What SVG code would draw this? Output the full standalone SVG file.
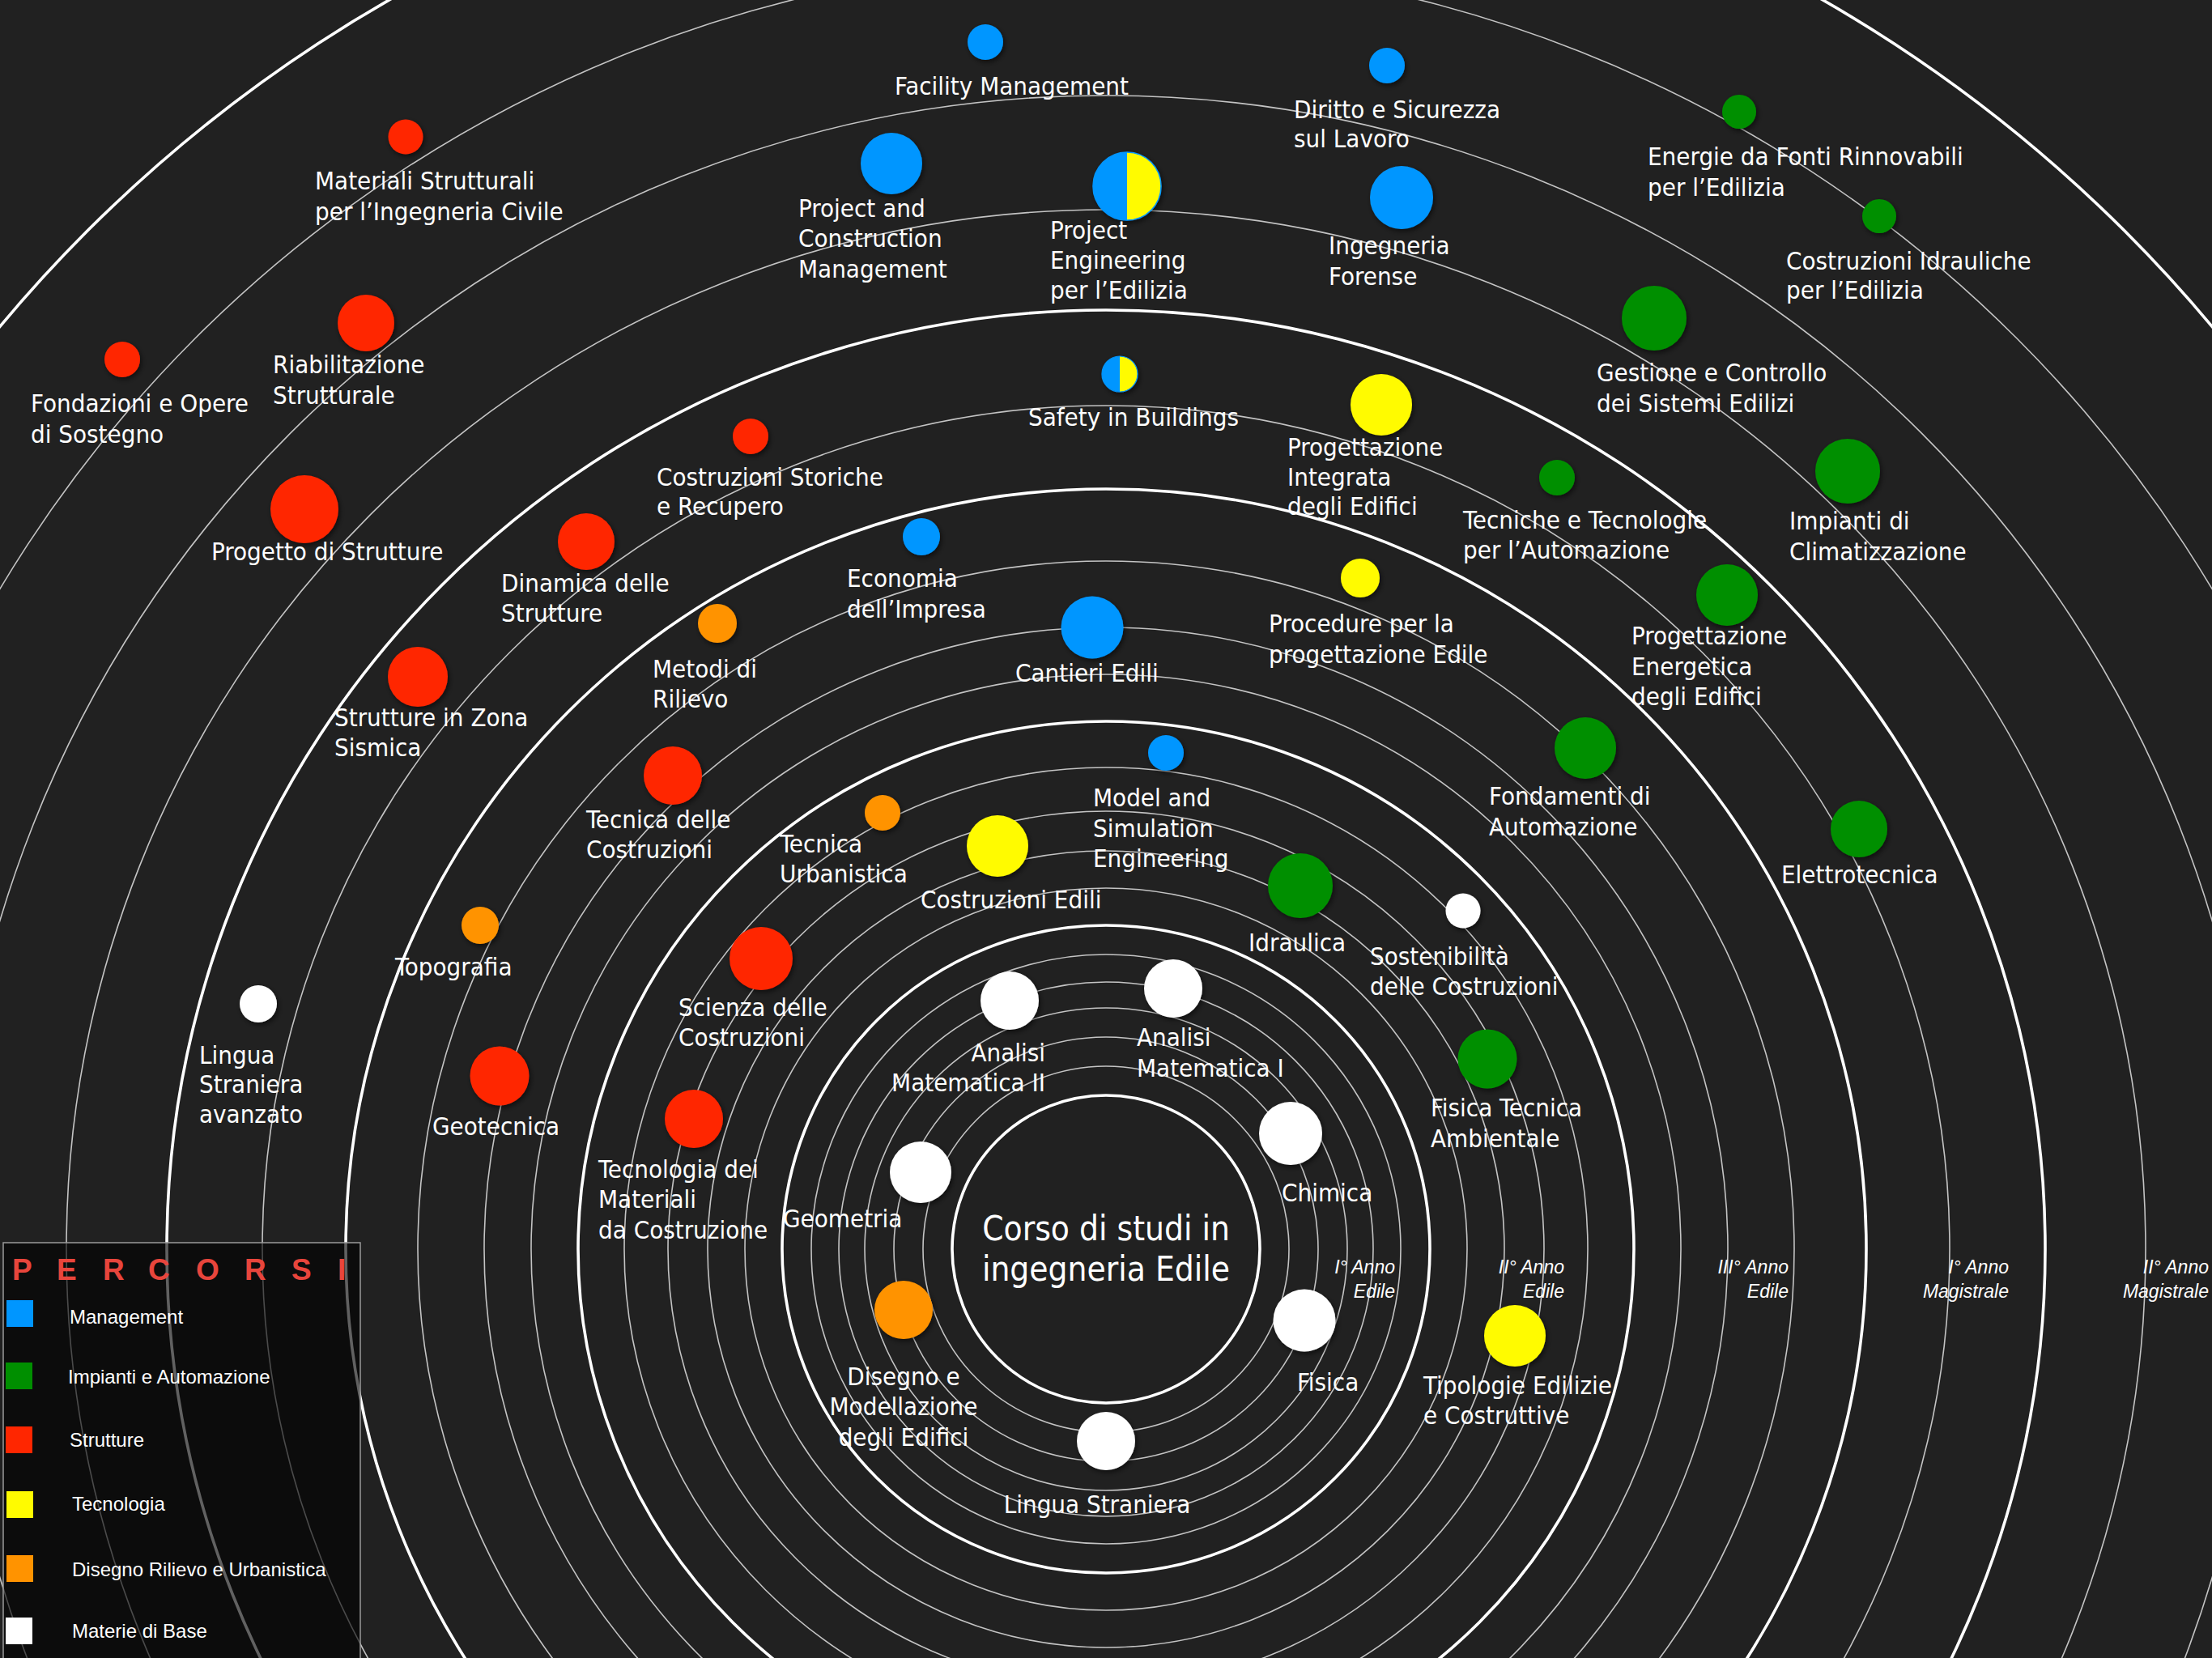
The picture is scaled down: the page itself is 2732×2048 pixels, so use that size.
<svg xmlns="http://www.w3.org/2000/svg" width="2732" height="2048" viewBox="0 0 2732 2048">
<defs>
<style>
.bg{fill:#212121}
.thin{fill:none;stroke:#c4c4c4;stroke-width:1.6}
.thick{fill:none;stroke:#ffffff;stroke-width:3.6}
.lbl{font-family:'DejaVu Sans Condensed','Liberation Sans',Arial,sans-serif;font-size:31px;fill:#ffffff}
.ctr{font-family:'DejaVu Sans Condensed','Liberation Sans',Arial,sans-serif;font-size:42px;fill:#ffffff;text-anchor:middle}
.yr{font-family:'Liberation Sans',Arial,sans-serif;font-size:23px;font-style:italic;fill:#ffffff;text-anchor:end}
.leg{font-family:'Liberation Sans',Arial,sans-serif;font-size:24px;fill:#ffffff}
.ttl{font-family:'Liberation Sans',Arial,sans-serif;font-size:37px;font-weight:bold;fill:#e8453c}
.b{fill:#0096ff}.g{fill:#008f00}.r{fill:#ff2600}.y{fill:#fffb00}.o{fill:#ff9300}.w{fill:#ffffff}
.dot{filter:url(#sh)}
</style>
<filter id="sh" x="-50%" y="-50%" width="200%" height="200%">
<feDropShadow dx="2" dy="3" stdDeviation="3" flood-color="#000" flood-opacity="0.55"/>
</filter>
</defs>
<rect class="bg" x="0" y="0" width="2732" height="2048"/>

<g id="orbits">
<circle class="thin" cx="1366" cy="1543" r="226"/>
<circle class="thin" cx="1366" cy="1543" r="262"/>
<circle class="thin" cx="1366" cy="1543" r="298"/>
<circle class="thin" cx="1366" cy="1543" r="330"/>
<circle class="thin" cx="1366" cy="1543" r="364"/>
<circle class="thin" cx="1366" cy="1543" r="446"/>
<circle class="thin" cx="1366" cy="1543" r="492"/>
<circle class="thin" cx="1366" cy="1543" r="541"/>
<circle class="thin" cx="1366" cy="1543" r="595"/>
<circle class="thin" cx="1366" cy="1543" r="710"/>
<circle class="thin" cx="1366" cy="1543" r="768"/>
<circle class="thin" cx="1366" cy="1543" r="850"/>
<circle class="thin" cx="1366" cy="1543" r="1042"/>
<circle class="thin" cx="1366" cy="1543" r="1284"/>
<circle class="thin" cx="1366" cy="1543" r="1425"/>
<circle class="thin" cx="1366" cy="1543" r="1591"/>
<circle class="thick" cx="1366" cy="1543" r="190"/>
<circle class="thick" cx="1366" cy="1543" r="400"/>
<circle class="thick" cx="1366" cy="1543" r="652"/>
<circle class="thick" cx="1366" cy="1543" r="939"/>
<circle class="thick" cx="1366" cy="1543" r="1160"/>
<circle class="thick" cx="1366" cy="1543" r="1779"/>
</g>

<g id="center">
<text class="ctr" x="1366" y="1532">Corso di studi in</text>
<text class="ctr" x="1366" y="1582">ingegneria Edile</text>
</g>

<g id="years">
<text class="yr" x="1723" y="1573">I° Anno</text><text class="yr" x="1723" y="1603">Edile</text>
<text class="yr" x="1932" y="1573">II° Anno</text><text class="yr" x="1932" y="1603">Edile</text>
<text class="yr" x="2209" y="1573">III° Anno</text><text class="yr" x="2209" y="1603">Edile</text>
<text class="yr" x="2481" y="1573">I° Anno</text><text class="yr" x="2481" y="1603">Magistrale</text>
<text class="yr" x="2728" y="1573">II° Anno</text><text class="yr" x="2728" y="1603">Magistrale</text>
</g>

<g id="n-facility"><circle class="dot b" cx="1217" cy="52" r="22"/><text class="lbl" x="1105" y="117">Facility Management</text></g>
<g id="n-diritto"><circle class="dot b" cx="1713" cy="81" r="22"/><text class="lbl" x="1598" y="146">Diritto e Sicurezza</text><text class="lbl" x="1598" y="182">sul Lavoro</text></g>
<g id="n-energie"><circle class="dot g" cx="2148" cy="138" r="21"/><text class="lbl" x="2035" y="204">Energie da Fonti Rinnovabili</text><text class="lbl" x="2035" y="242">per l’Edilizia</text></g>
<g id="n-idrauliche"><circle class="dot g" cx="2321" cy="267" r="21"/><text class="lbl" x="2206" y="333">Costruzioni Idrauliche</text><text class="lbl" x="2206" y="369">per l’Edilizia</text></g>
<g id="n-materiali"><circle class="dot r" cx="501" cy="169" r="21.5"/><text class="lbl" x="389" y="234">Materiali Strutturali</text><text class="lbl" x="389" y="272">per l’Ingegneria Civile</text></g>
<g id="n-pcm"><circle class="dot b" cx="1101" cy="202" r="38"/><text class="lbl" x="986" y="268">Project and</text><text class="lbl" x="986" y="305">Construction</text><text class="lbl" x="986" y="343">Management</text></g>
<g id="n-projeng"><g class="dot"><path class="b" d="M1392,188 A42,42 0 0,0 1392,272 Z"/><path class="y" d="M1392,188 A42,42 0 0,1 1392,272 Z"/><circle cx="1392" cy="230" r="42" fill="none" stroke="#0096ff" stroke-width="1.5"/></g><text class="lbl" x="1297" y="295">Project</text><text class="lbl" x="1297" y="332">Engineering</text><text class="lbl" x="1297" y="369">per l’Edilizia</text></g>
<g id="n-forense"><circle class="dot b" cx="1731" cy="244" r="39"/><text class="lbl" x="1641" y="314">Ingegneria</text><text class="lbl" x="1641" y="352">Forense</text></g>
<g id="n-fondazioni"><circle class="dot r" cx="151" cy="444" r="22"/><text class="lbl" x="38" y="509">Fondazioni e Opere</text><text class="lbl" x="38" y="547">di Sostegno</text></g>
<g id="n-riabilitazione"><circle class="dot r" cx="452" cy="399" r="35"/><text class="lbl" x="337" y="461">Riabilitazione</text><text class="lbl" x="337" y="499">Strutturale</text></g>
<g id="n-gestione"><circle class="dot g" cx="2043" cy="393" r="40"/><text class="lbl" x="1972" y="471">Gestione e Controllo</text><text class="lbl" x="1972" y="509">dei Sistemi Edilizi</text></g>
<g id="n-safety"><g class="dot"><path class="b" d="M1383,440 A22,22 0 0,0 1383,484 Z"/><path class="y" d="M1383,440 A22,22 0 0,1 1383,484 Z"/><circle cx="1383" cy="462" r="22" fill="none" stroke="#0096ff" stroke-width="1.2"/></g><text class="lbl" x="1270" y="526">Safety in Buildings</text></g>
<g id="n-integrata"><circle class="dot y" cx="1706" cy="500" r="38"/><text class="lbl" x="1590" y="563">Progettazione</text><text class="lbl" x="1590" y="600">Integrata</text><text class="lbl" x="1590" y="636">degli Edifici</text></g>
<g id="n-storiche"><circle class="dot r" cx="927" cy="539" r="22"/><text class="lbl" x="811" y="600">Costruzioni Storiche</text><text class="lbl" x="811" y="636">e Recupero</text></g>
<g id="n-tecniche"><circle class="dot g" cx="1923" cy="590" r="22"/><text class="lbl" x="1807" y="653">Tecniche e Tecnologie</text><text class="lbl" x="1807" y="690">per l’Automazione</text></g>
<g id="n-impianti"><circle class="dot g" cx="2282" cy="582" r="40"/><text class="lbl" x="2210" y="654">Impianti di</text><text class="lbl" x="2210" y="692">Climatizzazione</text></g>
<g id="n-progetto"><circle class="dot r" cx="376" cy="629" r="42"/><text class="lbl" x="261" y="692">Progetto di Strutture</text></g>
<g id="n-dinamica"><circle class="dot r" cx="724" cy="669" r="35"/><text class="lbl" x="619" y="731">Dinamica delle</text><text class="lbl" x="619" y="768">Strutture</text></g>
<g id="n-economia"><circle class="dot b" cx="1138" cy="663" r="23"/><text class="lbl" x="1046" y="725">Economia</text><text class="lbl" x="1046" y="763">dell’Impresa</text></g>
<g id="n-procedure"><circle class="dot y" cx="1680" cy="714" r="24"/><text class="lbl" x="1567" y="781">Procedure per la</text><text class="lbl" x="1567" y="819">progettazione Edile</text></g>
<g id="n-energetica"><circle class="dot g" cx="2133" cy="735" r="38"/><text class="lbl" x="2015" y="796">Progettazione</text><text class="lbl" x="2015" y="834">Energetica</text><text class="lbl" x="2015" y="871">degli Edifici</text></g>
<g id="n-metodi"><circle class="dot o" cx="886" cy="770" r="24"/><text class="lbl" x="806" y="837">Metodi di</text><text class="lbl" x="806" y="874">Rilievo</text></g>
<g id="n-cantieri"><circle class="dot b" cx="1349" cy="775" r="38.5"/><text class="lbl" x="1254" y="842">Cantieri Edili</text></g>
<g id="n-sismica"><circle class="dot r" cx="516" cy="836" r="37"/><text class="lbl" x="413" y="897">Strutture in Zona</text><text class="lbl" x="413" y="934">Sismica</text></g>
<g id="n-fondamenti"><circle class="dot g" cx="1958" cy="924" r="38"/><text class="lbl" x="1839" y="994">Fondamenti di</text><text class="lbl" x="1839" y="1032">Automazione</text></g>
<g id="n-model"><circle class="dot b" cx="1440" cy="930" r="22"/><text class="lbl" x="1350" y="996">Model and</text><text class="lbl" x="1350" y="1034">Simulation</text><text class="lbl" x="1350" y="1071">Engineering</text></g>
<g id="n-tecnica-costr"><circle class="dot r" cx="831" cy="958" r="36"/><text class="lbl" x="724" y="1023">Tecnica delle</text><text class="lbl" x="724" y="1060">Costruzioni</text></g>
<g id="n-urbanistica"><circle class="dot o" cx="1090" cy="1004" r="22"/><text class="lbl" x="963" y="1053">Tecnica</text><text class="lbl" x="963" y="1090">Urbanistica</text></g>
<g id="n-elettrotecnica"><circle class="dot g" cx="2296" cy="1024" r="35"/><text class="lbl" x="2200" y="1091">Elettrotecnica</text></g>
<g id="n-costr-edili"><circle class="dot y" cx="1232" cy="1045" r="38"/><text class="lbl" x="1137" y="1122">Costruzioni Edili</text></g>
<g id="n-idraulica"><circle class="dot g" cx="1606" cy="1094" r="40"/><text class="lbl" x="1542" y="1175">Idraulica</text></g>
<g id="n-topografia"><circle class="dot o" cx="593" cy="1143" r="23"/><text class="lbl" x="488" y="1205">Topografia</text></g>
<g id="n-sostenibilita"><circle class="dot w" cx="1807" cy="1125" r="21.5"/><text class="lbl" x="1692" y="1192">Sostenibilità</text><text class="lbl" x="1692" y="1229">delle Costruzioni</text></g>
<g id="n-scienza"><circle class="dot r" cx="940" cy="1184" r="39"/><text class="lbl" x="838" y="1255">Scienza delle</text><text class="lbl" x="838" y="1292">Costruzioni</text></g>
<g id="n-lingua-avanzato"><circle class="dot w" cx="319" cy="1240" r="23"/><text class="lbl" x="246" y="1314">Lingua</text><text class="lbl" x="246" y="1350">Straniera</text><text class="lbl" x="246" y="1387">avanzato</text></g>
<g id="n-analisi2"><circle class="dot w" cx="1247" cy="1236" r="36"/><text class="lbl" x="1291" y="1311" text-anchor="end">Analisi</text><text class="lbl" x="1291" y="1348" text-anchor="end">Matematica II</text></g>
<g id="n-analisi1"><circle class="dot w" cx="1449" cy="1221" r="36"/><text class="lbl" x="1404" y="1292">Analisi</text><text class="lbl" x="1404" y="1330">Matematica I</text></g>
<g id="n-fisica-tecnica"><circle class="dot g" cx="1837" cy="1308" r="36.5"/><text class="lbl" x="1767" y="1379">Fisica Tecnica</text><text class="lbl" x="1767" y="1417">Ambientale</text></g>
<g id="n-geotecnica"><circle class="dot r" cx="617" cy="1329" r="36.5"/><text class="lbl" x="534" y="1402">Geotecnica</text></g>
<g id="n-chimica"><circle class="dot w" cx="1594" cy="1400" r="39"/><text class="lbl" x="1583" y="1484">Chimica</text></g>
<g id="n-tecnologia-mat"><circle class="dot r" cx="857" cy="1382" r="36"/><text class="lbl" x="739" y="1455">Tecnologia dei</text><text class="lbl" x="739" y="1492">Materiali</text><text class="lbl" x="739" y="1530">da Costruzione</text></g>
<g id="n-geometria"><circle class="dot w" cx="1137" cy="1448" r="38"/><text class="lbl" x="967" y="1516">Geometria</text></g>
<g id="n-disegno"><circle class="dot o" cx="1116" cy="1618" r="36"/><text class="lbl" x="1116" y="1711" text-anchor="middle">Disegno e</text><text class="lbl" x="1116" y="1748" text-anchor="middle">Modellazione</text><text class="lbl" x="1116" y="1786" text-anchor="middle">degli Edifici</text></g>
<g id="n-fisica"><circle class="dot w" cx="1611" cy="1631" r="38.5"/><text class="lbl" x="1602" y="1718">Fisica</text></g>
<g id="n-tipologie"><circle class="dot y" cx="1871" cy="1650" r="38"/><text class="lbl" x="1758" y="1722">Tipologie Edilizie</text><text class="lbl" x="1758" y="1759">e Costruttive</text></g>
<g id="n-lingua"><circle class="dot w" cx="1366" cy="1780" r="36"/><text class="lbl" x="1355" y="1869" text-anchor="middle">Lingua Straniera</text></g>

<g id="legend">
<rect x="4" y="1535" width="441" height="530" fill="#000" fill-opacity="0.62" stroke="#9a9a9a" stroke-width="1.5"/>
<text class="ttl" x="15 70 127 183 242 302 360 417" y="1581">PERCORSI</text>
<rect class="b" x="8" y="1606" width="33" height="33"/><text class="leg" x="86" y="1635">Management</text>
<rect class="g" x="7" y="1683" width="33" height="33"/><text class="leg" x="84" y="1709">Impianti e Automazione</text>
<rect class="r" x="7" y="1762" width="33" height="33"/><text class="leg" x="86" y="1787">Strutture</text>
<rect class="y" x="8" y="1842" width="33" height="33"/><text class="leg" x="89" y="1866">Tecnologia</text>
<rect class="o" x="8" y="1921" width="33" height="33"/><text class="leg" x="89" y="1947">Disegno Rilievo e Urbanistica</text>
<rect class="w" x="7" y="1998" width="33" height="33"/><text class="leg" x="89" y="2023">Materie di Base</text>
</g>
</svg>
